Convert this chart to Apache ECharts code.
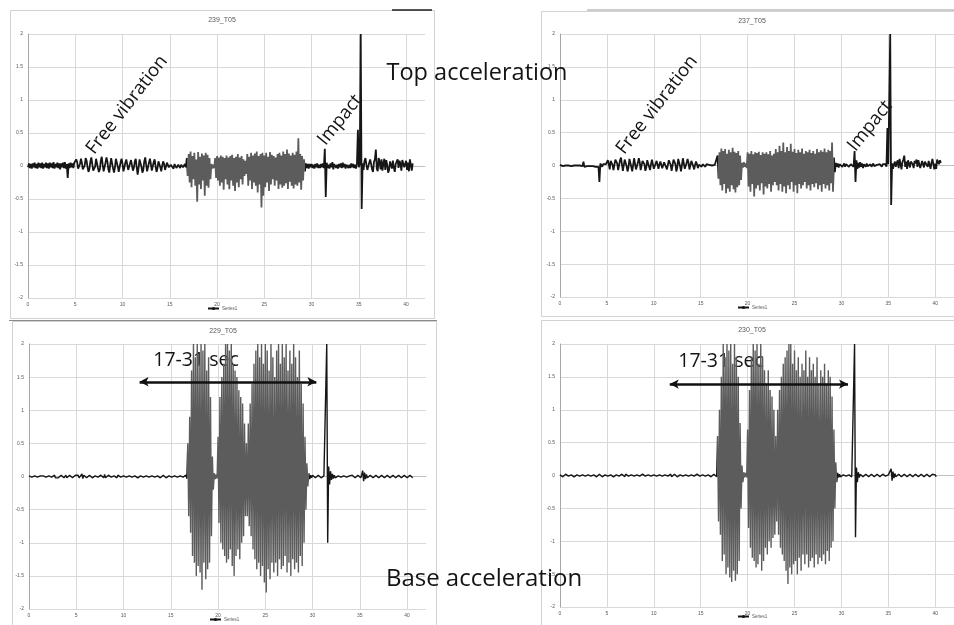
<!DOCTYPE html>
<html>
<head>
<meta charset="utf-8">
<script src="https://cdn.jsdelivr.net/npm/echarts@6/dist/echarts.min.js"></script>
<style>
html,body{margin:0;padding:0;background:#fff;}
#chart{width:954px;height:625px;}
</style>
</head>
<body>
<div id="chart"></div>
<script>
// Acceleration records, one sample every SAMPLE_STEP seconds (g units).
const SAMPLE_STEP = 0.1;
const panelTitles = ['239_T05', '237_T05', '229_T05', '230_T05'];
const seriesName = 'Series1';
const timeRange = [0, 42];
const timeTickStep = 5;
const accelRange = [-2, 2];
const accelTickStep = 0.5;

// Top acceleration, record 239
const accel239 = [
  -.02,.04,-.03,.03,-.04,.04,-.02,.05,-.03,.03,
  -.04,.05,-.02,.04,-.03,.05,-.04,.03,-.02,.05,
  -.03,.04,-.04,.05,-.02,.04,-.03,.06,-.04,.03,
  -.02,.05,-.03,.04,-.05,.04,-.02,.05,-.03,.06,
  -.04,.03,-.18,.04,-.03,.05,-.02,.04,-.03,.05,
  .02,.1,.06,-.04,-.07,.03,.11,.05,-.05,-.08,
  .01,.12,.08,-.02,-.09,-.04,.07,.13,.03,-.07,
  -.1,-.01,.11,.12,-.03,-.09,-.05,.08,.14,.02,
  -.08,-.09,.05,.13,.07,-.05,-.1,.02,.12,.09,
  -.04,-.1,-.02,.11,.12,-.01,-.09,-.07,.06,.11,
  .03,-.08,-.07,.05,.1,.02,-.06,-.05,.04,.09,
  .01,-.07,-.03,.07,.11,-.02,-.13,-.03,.1,.12,
  -.01,-.1,-.06,.07,.13,.02,-.08,-.09,.05,.11,
  .03,-.07,-.08,.06,.1,-.01,-.09,-.03,.07,.08,
  -.02,-.08,.01,.07,.03,-.06,-.03,.05,.06,-.02,
  -.05,.02,.04,-.01,-.04,.03,.03,-.03,-.02,.02,
  .01,-.03,.02,.03,-.02,-.01,.03,-.02,.12,-.15,
  .18,-.25,.22,-.32,.15,-.2,.2,-.3,.1,-.54,
  .21,-.28,.14,-.35,.19,-.22,.16,-.45,.2,-.3,
  .17,-.33,.12,-.2,.03,-.04,.02,-.03,.12,-.18,
  .15,-.22,.13,-.3,.16,-.25,.14,-.36,.12,-.2,
  .16,-.28,.13,-.35,.15,-.22,.17,-.3,.12,-.38,
  .14,-.25,.18,-.32,.13,-.2,.15,-.28,.1,-.15,
  .08,-.12,.18,-.3,.14,-.22,.2,-.35,.16,-.25,
  .19,-.3,.22,-.4,.15,-.28,.18,-.63,.2,-.45,
  .16,-.32,.2,-.25,.14,-.38,.21,-.28,.17,-.2,
  .15,-.3,.13,-.22,.18,-.35,.2,-.28,.16,-.33,
  .22,-.3,.18,-.26,.25,-.35,.19,-.24,.16,-.3,
  .2,-.34,.17,-.28,.22,-.3,.42,-.25,.18,-.36,
  .15,-.22,.1,-.08,.04,-.03,.03,-.04,.03,-.02,
  .03,-.03,.02,-.04,.03,-.02,.04,-.03,.02,-.03,
  .03,-.02,.04,-.03,.26,-.47,.05,-.03,.02,-.04,
  .04,-.02,.06,-.05,.03,.05,-.03,.02,-.04,.03,
  -.02,.04,-.03,.05,-.02,.03,-.04,.02,.03,-.03,
  .02,-.03,.04,-.02,.03,-.03,.02,-.04,.03,.55,
  -.02,.03,2,-.65,.04,-.06,.08,.12,.02,-.06,
  -.08,.05,.1,.03,-.05,-.09,.06,.1,.25,-.04,
  -.08,.12,.06,-.05,.1,-.07,.04,.11,-.06,.09,
  .02,-.1,-.06,.07,.05,-.04,.08,-.02,-.09,.03,
  .06,.1,-.03,.08,.04,-.07,.09,.12,-.02,-.05,
  .08,-.06,.05,-.08,.1,.02,-.07,.04
];

// Top acceleration, record 237
const accel237 = [
  .01,0,.01,-.01,0,.01,0,-.01,.01,0,
  0,.01,-.01,0,.01,0,-.01,.01,0,.01,
  -.01,0,.01,0,-.01,.06,-.02,.01,0,-.01,
  .01,0,-.01,.01,.02,-.01,0,.01,-.02,.01,
  0,-.02,-.25,.03,.01,-.02,.02,.01,-.01,.02,
  .03,.08,.02,-.06,.07,.1,.01,-.07,-.05,.09,
  .12,.03,-.07,-.06,.08,.12,.02,-.08,-.05,.09,
  .11,-.01,-.09,-.03,.1,.11,-.02,-.09,.01,.11,
  .09,-.06,-.08,.04,.11,.05,-.07,-.07,.07,.1,
  .02,-.08,-.03,.08,.09,-.02,-.07,.02,.09,.06,
  -.05,-.06,.03,.07,.01,-.05,.02,.06,.03,-.04,
  -.02,.05,.08,.02,-.06,-.03,.08,.11,.01,-.08,
  -.06,.09,.12,.02,-.09,-.03,.1,.11,-.01,-.09,
  .01,.11,.09,-.05,-.08,.04,.1,.04,-.06,-.04,
  .07,.08,-.01,-.06,.01,.06,.02,-.04,.01,.03,
  .01,-.02,.02,.03,-.01,-.02,.02,.01,-.01,.01,
  .02,-.01,0,.02,-.01,.01,.02,-.02,.15,-.2,
  .2,-.3,.26,-.38,.22,-.28,.25,-.42,.18,-.35,
  .24,-.4,.2,-.3,.27,-.36,.21,-.41,.19,-.33,
  .22,-.3,.15,-.22,.04,-.03,.05,-.02,.03,-.04,
  .2,-.32,.18,-.4,.22,-.28,.17,-.47,.2,-.35,
  .19,-.3,.21,-.38,.16,-.27,.2,-.44,.18,-.32,
  .2,-.35,.17,-.28,.22,-.4,.15,-.3,.18,-.25,
  .25,-.3,.2,-.38,.3,-.28,.22,-.4,.35,-.32,
  .2,-.42,.28,-.3,.22,-.36,.33,-.25,.21,-.4,
  .25,-.3,.19,-.42,.24,-.28,.2,-.35,.26,-.3,
  .18,-.25,.22,-.35,.2,-.3,.24,-.38,.19,-.28,
  .22,-.33,.18,-.27,.25,-.36,.2,-.3,.23,-.4,
  .21,-.28,.26,-.35,.2,-.3,.24,-.38,.22,-.27,
  .35,-.4,.12,-.1,.04,-.02,.03,-.03,.02,-.01,
  .02,-.02,.01,.03,-.02,.02,-.01,.02,-.02,.01,
  .02,-.01,.03,-.02,.22,-.25,.08,-.05,.04,-.03,
  .05,-.02,.03,-.04,.02,.01,-.02,.03,-.01,.02,
  -.01,.02,-.02,.01,.03,-.01,.02,-.02,.01,.02,
  -.01,.02,.01,-.02,.02,-.01,.01,.02,-.02,.57,
  .02,.03,2,-.6,.03,-.05,.02,.06,-.02,.04,
  .08,-.04,.1,.02,-.06,.05,.09,.15,-.02,.06,
  -.05,.08,.1,-.03,.06,.09,.02,-.04,.07,.03,
  .09,-.02,.08,.05,-.04,-.06,.07,.09,-.03,.06,
  .05,.08,-.02,.07,.09,-.05,.04,.1,.02,-.06,
  .03,-.05,.09,.06,.02,.08,.04
];

// Base acceleration, record 229
const accel229 = [
  .01,-.01,.02,-.01,.01,-.02,.01,-.01,.02,-.01,
  .02,-.01,.01,-.02,.01,.01,-.02,.01,-.01,.02,
  -.01,.01,-.02,.02,-.01,.01,-.01,.02,-.02,.01,
  .01,-.02,.01,-.01,.02,-.01,.01,-.02,.01,.02,
  -.02,.01,-.01,.02,-.01,.03,-.02,.01,-.01,.02,
  .01,-.01,.02,-.02,.01,-.01,.04,-.03,.02,-.01,
  .02,-.02,.01,-.01,.02,-.01,.01,-.02,.01,-.01,
  .01,-.01,.02,-.01,.01,-.02,.02,-.01,.01,-.02,
  .03,-.02,.01,-.01,.02,-.01,.01,-.01,.02,-.02,
  .01,-.01,.01,-.02,.02,-.01,.01,-.01,.02,-.01,
  .01,-.02,.01,-.01,.02,-.01,.01,-.02,.01,-.01,
  .02,-.01,.01,-.01,.02,-.02,.01,-.01,.01,-.02,
  .01,-.01,.02,-.01,.01,-.02,.01,-.01,.02,-.01,
  .01,-.02,.01,-.01,.02,-.01,.01,-.01,.02,-.02,
  .01,-.01,.02,-.01,.01,-.02,.01,-.01,.01,-.01,
  .02,-.01,.01,-.02,.01,-.01,.02,-.01,.01,-.02,
  .01,-.01,.02,-.01,.01,-.02,.02,-.03,.5,-.6,
  .9,-.85,1.6,-1.2,2,-1.3,1.8,-1.5,2,-1.35,
  1.7,-1.45,2,-1.71,1.9,-1.3,2,-1.55,1.6,-1.4,
  1.8,-1.3,1.2,-.9,.3,-.2,.05,-.04,.03,-.03,
  .6,-.7,1.2,-1,1.5,-1.1,1.7,-1.2,2,-1.3,
  2,-1.25,1.9,-1.1,2,-1.35,1.7,-1.5,1.6,-1.2,
  1.5,-1.1,1.3,-1.25,1.2,-1,1.1,-.9,.8,-.6,
  .5,-.6,.8,-.75,1.1,-.9,1.4,-1.1,1.7,-1.25,
  1.9,-1.4,2,-1.3,1.8,-1.5,2,-1.35,1.7,-1.6,
  2,-1.75,1.9,-1.4,1.6,-1.55,2,-1.3,1.8,-1.45,
  1.5,-1.3,1.9,-1.5,2,-1.25,1.7,-1.4,2,-1.35,
  1.8,-1.2,2,-1.45,1.6,-1.3,1.9,-1.5,1.7,-1.25,
  2,-1.4,1.8,-1.3,1.5,-1.45,1.9,-1.2,1.4,-1.35,
  1.1,-1,.6,-.5,.2,-.15,.05,-.04,.02,-.02,
  .02,-.01,.01,-.02,.01,-.01,.02,-.01,.01,-.02,
  .01,-.02,.01,-.01,.02,2,-1,.15,-.12,.08,
  -.05,.04,-.03,.02,-.02,.01,-.02,.01,-.01,.02,
  -.01,.01,-.02,.01,-.01,.02,-.01,.01,-.02,.01,
  .01,-.01,.02,-.01,.01,-.02,.01,-.01,.02,-.01,
  .01,-.02,.03,.09,-.07,.06,-.04,.03,-.02,.01,
  -.01,.02,-.01,.01,-.02,.01,-.01,.02,-.01,.01,
  -.02,.01,-.01,.02,-.01,.01,-.02,.01,-.01,.02,
  -.01,.01,-.02,.01,-.01,.02,-.01,.01,-.02,.01,
  -.01,.02,-.01,.01,-.02,.01,-.01,.02,-.01,.01,
  -.02,.01,-.01,.02,-.01,.01,-.02
];

// Base acceleration, record 230
const accel230 = [
  .01,-.01,.01,-.02,.01,-.01,.02,-.01,.01,-.01,
  .02,-.01,.01,-.01,.02,-.02,.01,-.01,.01,-.02,
  .01,-.01,.02,-.01,.01,-.02,.01,-.01,.02,-.01,
  .01,-.02,.01,-.01,.02,-.01,.01,-.01,.02,-.02,
  .01,-.01,.02,-.01,.01,-.02,.01,-.01,.01,-.01,
  .02,-.01,.01,-.02,.01,-.01,.03,-.02,.01,-.02,
  .01,-.01,.02,-.01,.01,-.02,.02,-.01,.01,-.02,
  .02,-.01,.01,-.01,.02,-.01,.01,-.02,.01,-.01,
  .01,-.02,.01,-.01,.02,-.01,.01,-.01,.02,-.01,
  .02,-.01,.01,-.02,.01,-.01,.02,-.01,.01,-.02,
  .01,-.01,.02,-.01,.01,-.02,.01,-.01,.02,-.01,
  .01,-.02,.01,-.01,.02,-.01,.01,-.01,.02,-.02,
  .01,-.01,.02,-.01,.01,-.02,.01,-.01,.01,-.01,
  .02,-.01,.01,-.02,.01,-.01,.02,-.01,.01,-.02,
  .01,-.01,.02,-.01,.01,-.02,.02,-.01,.01,-.01,
  .02,-.02,.01,-.01,.02,-.01,.01,-.02,.01,-.01,
  .01,-.02,.01,-.01,.02,-.01,.01,-.02,.6,-.7,
  1,-.9,1.5,-1.3,2,-1.2,1.8,-1.5,2,-1.4,
  1.9,-1.55,2,-1.62,1.7,-1.45,2,-1.6,1.8,-1.5,
  1.5,-1.3,.8,-.5,.15,-.1,.05,-.03,.04,-.03,
  .7,-.8,1.3,-1.1,1.8,-1.25,2,-1.3,1.9,-1.4,
  2,-1.35,1.7,-1.2,2,-1.45,1.8,-1.3,1.6,-1.1,
  1.4,-1.2,1.6,-1,1.3,-1.1,1.2,-.95,1,-.9,
  .6,-.7,1,-.9,1.3,-1.1,1.5,-1.2,1.7,-1.3,
  1.8,-1.45,1.9,-1.65,2,-1.4,2,-1.5,1.7,-1.35,
  1.9,-1.3,1.6,-1.5,1.8,-1.25,1.5,-1.45,1.7,-1.2,
  1.6,-1.35,1.9,-1.2,1.5,-1.4,1.8,-1.3,1.6,-1.25,
  1.7,-1.4,1.5,-1.2,1.8,-1.35,1.4,-1.25,1.6,-1.3,
  1.5,-1.2,1.7,-1.35,1.4,-1.15,1.6,-1.3,1.5,-1.1,
  1.2,-1,.7,-.5,.2,-.1,.04,-.03,.02,-.02,
  .01,-.02,.01,-.01,.02,-.01,.01,-.02,.01,-.01,
  .01,-.02,.01,-.01,2,-.94,.12,-.1,.05,-.03,
  .02,-.01,.01,-.02,.01,-.01,.02,-.01,.01,-.02,
  .01,-.01,.02,-.01,.01,-.02,.01,-.01,.02,-.01,
  .01,-.02,.01,-.01,.02,-.01,.01,-.01,.02,-.02,
  .01,-.02,.02,.1,-.08,.06,-.04,.03,-.02,.01,
  -.01,.02,-.01,.01,-.02,.01,-.01,.02,-.01,.01,
  -.02,.01,-.01,.02,-.01,.01,-.02,.01,-.01,.02,
  -.01,.01,-.02,.01,-.01,.02,-.01,.01,-.02,.01,
  -.01,.02,-.01,.01,-.02,.01,-.01,.02,-.01,.01,
  .01,-.02
];

// Time windows of the shaking bursts (seconds), drawn in grey
const burstWindows = [[16.8, 29.3], [16.8, 29.2], [16.7, 29.6], [16.7, 29.5]];
// "17-31 sec" double arrow on the base records: [start, end] in seconds and its level in g
const arrowSpan229 = [11.7, 30.4];
const arrowLevel229 = 1.43;
const arrowSpan230 = [11.7, 30.7];
const arrowLevel230 = 1.39;

const records = [accel239, accel237, accel229, accel230];
const arrows = [null, null, {span: arrowSpan229, level: arrowLevel229}, {span: arrowSpan230, level: arrowLevel230}];

// Page layout of the four chart boxes
const layout = [
  {grid: {left: 28, top: 34, width: 397, height: 264}, title: [222, 17], legend: [207, 306]},
  {grid: {left: 560, top: 34, width: 394, height: 263}, title: [752, 18], legend: [737, 305]},
  {grid: {left: 29, top: 344, width: 397, height: 265}, title: [223, 328], legend: [209, 617]},
  {grid: {left: 560, top: 344, width: 394, height: 263}, title: [752, 327], legend: [737, 614]}
];

const axisGrey = '#595959';
const gridGrey = '#d9d9d9';
const quietColor = '#161616';
const burstColor = '#5c5c5c';

function toPoints(values) {
  return values.map((v, k) => [Math.round(k * SAMPLE_STEP * 10) / 10, v]);
}

const chart = echarts.init(document.getElementById('chart'), null, {renderer: 'canvas'});

const option = {
  animation: false,
  backgroundColor: '#ffffff',
  title: layout.map((l, i) => ({
    text: panelTitles[i], left: l.title[0], top: l.title[1], textAlign: 'center', padding: 0,
    textStyle: {fontSize: 7, fontWeight: 'normal', color: axisGrey, fontFamily: 'Liberation Sans'}
  })),
  legend: layout.map(l => ({
    data: [{name: seriesName, itemStyle: {color: quietColor}, lineStyle: {color: quietColor}}],
    left: l.legend[0], top: l.legend[1], padding: 0, itemGap: 2,
    itemWidth: 11, itemHeight: 4, selectedMode: false,
    textStyle: {fontSize: 4.5, color: axisGrey, fontFamily: 'Liberation Sans', padding: [0, 0, 0, -2]}
  })),
  grid: layout.map(l => Object.assign({containLabel: false}, l.grid)),
  xAxis: layout.map((l, i) => ({
    type: 'value', gridIndex: i, min: timeRange[0], max: timeRange[1], interval: timeTickStep,
    axisLine: {onZero: true, lineStyle: {color: '#bfbfbf', width: 1}},
    axisTick: {show: false},
    axisLabel: {fontSize: 5, color: axisGrey, margin: 4, showMaxLabel: false, fontFamily: 'Liberation Sans'},
    splitLine: {show: true, showMaxLine: false, lineStyle: {color: gridGrey, width: 1}}
  })),
  yAxis: layout.map((l, i) => ({
    type: 'value', gridIndex: i, min: accelRange[0], max: accelRange[1], interval: accelTickStep,
    axisLine: {show: true, onZero: false, lineStyle: {color: '#a6a6a6', width: 1}},
    axisTick: {show: false},
    axisLabel: {fontSize: 5, color: axisGrey, margin: 5, fontFamily: 'Liberation Sans'},
    splitLine: {show: true, lineStyle: {color: gridGrey, width: 1}}
  })),
  visualMap: burstWindows.map((w, i) => ({
    type: 'piecewise', show: false, seriesIndex: i, dimension: 0,
    pieces: [{gte: w[0], lte: w[1], color: burstColor}],
    outOfRange: {color: quietColor}
  })),
  series: records.map((values, i) => {
    const s = {
      type: 'line', name: seriesName, xAxisIndex: i, yAxisIndex: i,
      data: toPoints(values),
      showSymbol: false, symbol: 'none', sampling: null, clip: true,
      lineStyle: {width: i < 2 ? 1.8 : 1.4},
      z: 3
    };
    if (arrows[i]) {
      const a = arrows[i];
      s.markLine = {
        silent: true, symbol: ['arrow', 'arrow'], symbolSize: [7, 9],
        lineStyle: {color: '#111', width: 2.5, type: 'solid'},
        label: {show: false},
        data: [[{coord: [a.span[0], a.level]}, {coord: [a.span[1], a.level]}]]
      };
    }
    return s;
  }),
  graphic: [
    // chart box outlines
    {type: 'rect', shape: {x: 10.5, y: 10.5, width: 424, height: 308}, style: {fill: 'none', stroke: '#d2d2d2', lineWidth: 1}, z: 1},
    {type: 'rect', shape: {x: 541.5, y: 11.5, width: 430, height: 305}, style: {fill: 'none', stroke: '#d2d2d2', lineWidth: 1}, z: 1},
    {type: 'rect', shape: {x: 12.5, y: 321.5, width: 424, height: 320}, style: {fill: 'none', stroke: '#d2d2d2', lineWidth: 1}, z: 1},
    {type: 'rect', shape: {x: 541.5, y: 320.5, width: 430, height: 320}, style: {fill: 'none', stroke: '#d2d2d2', lineWidth: 1}, z: 1},
    {type: 'line', shape: {x1: 9, y1: 320.5, x2: 437, y2: 320.5}, style: {stroke: '#8a8a8a', lineWidth: 1}, z: 1},
    {type: 'line', shape: {x1: 392, y1: 10, x2: 432, y2: 10}, style: {stroke: '#1e1e1e', lineWidth: 1.5}, z: 1},
    {type: 'line', shape: {x1: 587, y1: 10, x2: 954, y2: 10}, style: {stroke: '#9a9a9a', lineWidth: 1}, z: 1},
    // annotations
    {type: 'text', x: 477, y: 73, z: 1, style: {text: 'Top acceleration', fontSize: 23.5, fontFamily: 'Open Sans', fill: '#141414', align: 'center', verticalAlign: 'middle', textAlign: 'center', textVerticalAlign: 'middle'}},
    {type: 'text', x: 484, y: 579, z: 1, style: {text: 'Base acceleration', fontSize: 24, fontFamily: 'Open Sans', fill: '#141414', align: 'center', verticalAlign: 'middle', textAlign: 'center', textVerticalAlign: 'middle'}},
    {type: 'text', x: 127, y: 105, rotation: 52 * Math.PI / 180, z: 1, style: {text: 'Free vibration', fontSize: 18.5, fontFamily: 'Open Sans', fill: '#141414', align: 'center', verticalAlign: 'middle', textAlign: 'center', textVerticalAlign: 'middle'}},
    {type: 'text', x: 340, y: 120, rotation: 51 * Math.PI / 180, z: 1, style: {text: 'Impact', fontSize: 18.5, fontFamily: 'Open Sans', fill: '#141414', align: 'center', verticalAlign: 'middle', textAlign: 'center', textVerticalAlign: 'middle'}},
    {type: 'text', x: 657, y: 105, rotation: 52 * Math.PI / 180, z: 1, style: {text: 'Free vibration', fontSize: 18.5, fontFamily: 'Open Sans', fill: '#141414', align: 'center', verticalAlign: 'middle', textAlign: 'center', textVerticalAlign: 'middle'}},
    {type: 'text', x: 870, y: 126, rotation: 51 * Math.PI / 180, z: 1, style: {text: 'Impact', fontSize: 18.5, fontFamily: 'Open Sans', fill: '#141414', align: 'center', verticalAlign: 'middle', textAlign: 'center', textVerticalAlign: 'middle'}},
    {type: 'text', x: 196, y: 360, z: 1, style: {text: '17-31 sec', fontSize: 19.5, fontFamily: 'Open Sans', fill: '#141414', align: 'center', verticalAlign: 'middle', textAlign: 'center', textVerticalAlign: 'middle'}},
    {type: 'text', x: 721, y: 361, z: 1, style: {text: '17-31 sec', fontSize: 19.5, fontFamily: 'Open Sans', fill: '#141414', align: 'center', verticalAlign: 'middle', textAlign: 'center', textVerticalAlign: 'middle'}}
  ]
};

chart.setOption(option);
</script>
</body>
</html>
